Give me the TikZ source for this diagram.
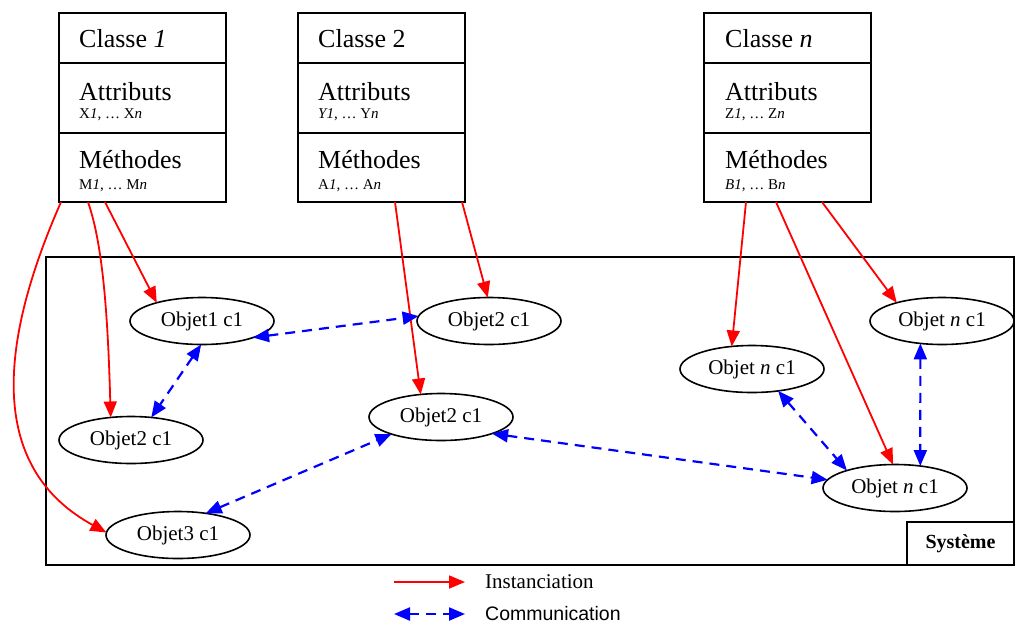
\documentclass[tikz,border=0pt]{standalone}
\usepackage{fontspec}
\setmainfont{Liberation Serif}
\newfontfamily\legsans{Liberation Sans}
\usetikzlibrary{arrows.meta,shapes.geometric}
\begin{document}
\begin{tikzpicture}[x=1pt,y=-1pt,
 comp/.style={draw,line width=2pt,rectangle,minimum width=167pt,inner sep=0pt,outer sep=0pt,anchor=north west},
 ctitle/.style={anchor=base west,inner sep=0pt,font=\fontsize{26}{30}\selectfont},
 csmall/.style={anchor=base west,inner sep=0pt,font=\fontsize{15}{18}\selectfont},
 obj/.style={draw,ellipse,line width=1.6pt,minimum width=144pt,minimum height=47pt,inner sep=0pt,outer sep=0pt,font=\fontsize{21}{24}\selectfont},
 inst/.style={draw=red,line width=1.8pt,-{Triangle[length=16pt,width=13pt]}},
 comm/.style={draw=blue,line width=2.2pt,dash pattern=on 10pt off 7pt,{Triangle[length=16pt,width=13pt]}-{Triangle[length=16pt,width=13pt]}},
 legtext/.style={anchor=west,inner sep=0pt,font=\fontsize{21}{24}\selectfont},
]
\useasboundingbox (0,0) rectangle (1016,625);

% system
\node[draw,line width=2pt,minimum width=968pt,minimum height=308pt,anchor=north west,inner sep=0pt,outer sep=0pt] (sys) at (46,257) {};
\node[draw,line width=2pt,anchor=south east,minimum width=107pt,minimum height=43pt,inner sep=0pt,outer sep=0pt,font=\bfseries\fontsize{20}{24}\selectfont] (syslab) at (sys.south east) {Système};

% class 1
\node[comp,minimum height=50pt] (c1a) at (59,13) {};
\node[comp,minimum height=70pt] (c1b) at (c1a.south west) {};
\node[comp,minimum height=69pt] (c1c) at (c1b.south west) {};
\node[ctitle] (c1t) at (79,47) {Classe \textit{1}};
\node[ctitle] (c1at) at (79,100) {Attributs};
\node[csmall] (c1as) at (79,118) {X\textit{1}, … X\textit{n}};
\node[ctitle] (c1mt) at (79,168) {Méthodes};
\node[csmall] (c1ms) at (79,189) {M\textit{1}, … M\textit{n}};

% class 2
\node[comp,minimum height=50pt] (c2a) at (298,13) {};
\node[comp,minimum height=70pt] (c2b) at (c2a.south west) {};
\node[comp,minimum height=69pt] (c2c) at (c2b.south west) {};
\node[ctitle] (c2t) at (318,47) {Classe 2};
\node[ctitle] (c2at) at (318,100) {Attributs};
\node[csmall] (c2as) at (318,118) {\textit{Y1}, … Y\textit{n}};
\node[ctitle] (c2mt) at (318,168) {Méthodes};
\node[csmall] (c2ms) at (318,189) {A\textit{1}, … A\textit{n}};

% class n
\node[comp,minimum height=50pt] (cna) at (704,13) {};
\node[comp,minimum height=70pt] (cnb) at (cna.south west) {};
\node[comp,minimum height=69pt] (cnc) at (cnb.south west) {};
\node[ctitle] (cnt) at (725,47) {Classe \textit{n}};
\node[ctitle] (cnat) at (725,100) {Attributs};
\node[csmall] (cnas) at (725,118) {Z\textit{1}, … Z\textit{n}};
\node[ctitle] (cnmt) at (725,168) {Méthodes};
\node[csmall] (cnms) at (725,189) {\textit{B1}, … B\textit{n}};

% objects
\node[obj] (o1) at (202,321) {Objet1 c1};
\node[obj] (o2l) at (131,440) {Objet2 c1};
\node[obj] (o3) at (178,535) {Objet3 c1};
\node[obj] (o2t) at (489,321) {Objet2 c1};
\node[obj] (o2m) at (441,417) {Objet2 c1};
\node[obj] (onl) at (752,369) {Objet \textit{n} c1};
\node[obj] (onr) at (942,321) {Objet \textit{n} c1};
\node[obj] (onb) at (895,488) {Objet \textit{n} c1};

% instanciation
\draw[inst] ([xshift=46pt]c1c.south west) -- (o1.158);
\draw[inst] ([xshift=29pt]c1c.south west) .. controls +(14,40) and +(-3,-110) .. (o2l.132);
\draw[inst] ([xshift=2pt]c1c.south west) .. controls +(-66,150) and +(-115,-63) .. (o3.178);
\draw[inst] ([xshift=97pt]c2c.south west) -- (o2m.132);
\draw[inst] ([xshift=164pt]c2c.south west) -- (o2t.93);
\draw[inst] ([xshift=42pt]cnc.south west) -- (onl.132);
\draw[inst] ([xshift=72pt]cnc.south west) -- (onb.95);
\draw[inst] ([xshift=118pt]cnc.south west) -- (onr.158);

% communication
\draw[comm] (o1.-18) -- (o2t.176);
\draw[comm] (o1.-92) -- (o2l.48);
\draw[comm] (o3.38) -- (o2m.199);
\draw[comm] (o2m.-18) -- (onb.173);
\draw[comm] (onl.-40) -- (onb.160);
\draw[comm] (onr.-134) -- (onb.41);

% legend
\coordinate (l1a) at (394,582);
\coordinate (l1b) at (465,582);
\draw[inst] (l1a) -- (l1b);
\node[legtext] (l1t) at (485,582) {Instanciation};
\coordinate (l2a) at (394,614);
\coordinate (l2b) at (465,614);
\draw[comm] (l2a) -- (l2b);
\node[legtext,font=\legsans\fontsize{19.5}{22}\selectfont] (l2t) at (485,614) {Communication};
\end{tikzpicture}
\end{document}
